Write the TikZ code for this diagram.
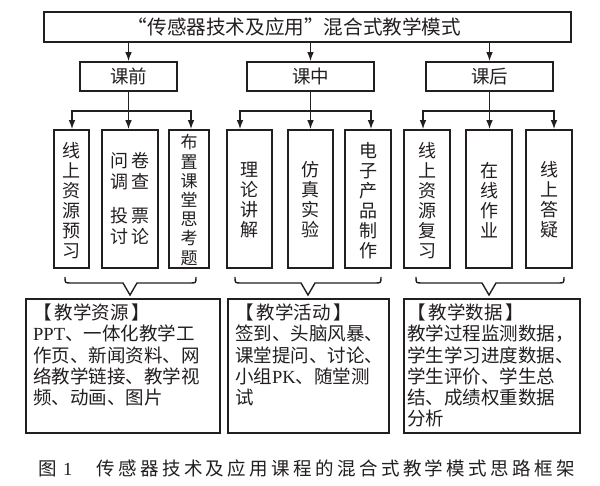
\documentclass[tikz,border=0pt]{standalone}
\usepackage{fontspec}
\setmainfont{Noto Sans CJK SC}
\newfontfamily\lat{Liberation Serif}
\usetikzlibrary{arrows.meta}
\definecolor{ink}{RGB}{35,31,32}
\def\spc#1{\ifx\relax#1\else#1\hspace{3.4pt}\expandafter\spc\fi}
\begin{document}
\begin{tikzpicture}[x=1pt,y=-1pt,
  box/.style={draw=ink, line width=1.5pt, inner sep=0pt, text=ink},
  txt/.style={inner sep=0pt, text=ink},
  tall/.style={box, minimum height=138pt},
  vtext/.style={txt, align=center, font=\fontsize{18}{20}\selectfont},
  body/.style={txt, align=left, anchor=north west, font=\fontsize{18.5}{21.3}\selectfont},
  arr/.style={-{Latex[length=9pt,width=6.5pt]}, draw=ink, line width=1.4pt},
  brace/.style={draw=ink, line width=1.4pt, line join=miter}]
\fill[white] (0,0) rectangle (600,486);
\useasboundingbox (0,0) rectangle (600,486);

% top
\node[box, minimum width=527pt, minimum height=30pt] (top) at (307.5,27) {};
\node[txt, font=\fontsize{19.6}{22}\selectfont] (title) at (294.5,27) {“传感器技术及应用”混合式教学模式};

% second row
\node[box, minimum width=97pt, minimum height=29pt, font=\fontsize{18.5}{20}\selectfont] (k1) at (128.5,76.5) {课前};
\node[box, minimum width=127pt, minimum height=29pt, font=\fontsize{18.5}{20}\selectfont] (k2) at (310.5,76.5) {课中};
\node[box, minimum width=127pt, minimum height=29pt, font=\fontsize{18.5}{20}\selectfont] (k3) at (489.5,76.5) {课后};

\draw[arr] (top.south -| k1.north) -- (k1.north);
\draw[arr] (top.south -| k2.north) -- (k2.north);
\draw[arr] (top.south -| k3.north) -- (k3.north);

% tall boxes
\node[tall, minimum width=35pt] (b1) at (71.5,199) {};
\node[tall, minimum width=56pt] (b2) at (130,199) {};
\node[tall, minimum width=40pt] (b3) at (189,199) {};
\node[tall, minimum width=45pt] (b4) at (249.5,199) {};
\node[tall, minimum width=45pt] (b5) at (310.5,199) {};
\node[tall, minimum width=46pt] (b6) at (368,199) {};
\node[tall, minimum width=46pt] (b7) at (427,199) {};
\node[tall, minimum width=46pt] (b8) at (489,199) {};
\node[tall, minimum width=46pt] (b9) at (549,199) {};

\node[vtext] (t1) at (71.5,201) {线\\上\\资\\源\\预\\习};
\node[vtext, font=\fontsize{18}{21}\selectfont] (t2) at (130,198) {问\hspace{3pt}卷\\调\hspace{3pt}查\\[13pt]投\hspace{3pt}票\\讨\hspace{3pt}论};
\node[vtext, font=\fontsize{17}{19.2}\selectfont] (t3) at (189,200) {布\\置\\课\\堂\\思\\考\\题};
\node[vtext] (t4) at (249.5,200) {理\\论\\讲\\解};
\node[vtext] (t5) at (310.5,200) {仿\\真\\实\\验};
\node[vtext] (t6) at (368,201) {电\\子\\产\\品\\制\\作};
\node[vtext] (t7) at (427,201) {线\\上\\资\\源\\复\\习};
\node[vtext] (t8) at (489,200) {在\\线\\作\\业};
\node[vtext] (t9) at (549,200) {线\\上\\答\\疑};

% branch points
\coordinate (a11) at (72,111);  \coordinate (a12) at (128.5,111); \coordinate (a13) at (191,111);
\coordinate (a21) at (240,111); \coordinate (a22) at (310.5,111); \coordinate (a23) at (371,111);
\coordinate (a31) at (423,111); \coordinate (a32) at (489.5,111); \coordinate (a33) at (554,111);

\draw[arr] (k1.south) -- (a12 |- b2.north);
\draw[arr] (a12) -- (a11) -- (a11 |- b1.north);
\draw[arr] (a12) -- (a13) -- (a13 |- b3.north);
\draw[arr] (k2.south) -- (a22 |- b5.north);
\draw[arr] (a22) -- (a21) -- (a21 |- b4.north);
\draw[arr] (a22) -- (a23) -- (a23 |- b6.north);
\draw[arr] (k3.south) -- (a32 |- b8.north);
\draw[arr] (a32) -- (a31) -- (a31 |- b7.north);
\draw[arr] (a32) -- (a33) -- (a33 |- b9.north);

% bottom boxes
\node[box, minimum width=194pt, minimum height=134pt] (A) at (123,366) {};
\node[box, minimum width=161pt, minimum height=134pt] (B) at (308.5,366) {};
\node[box, minimum width=176pt, minimum height=134pt] (C) at (492,366) {};

% braces
\draw[brace] (65,277) .. controls (65,283) .. (71,283) -- (123,283) -- (130,295) -- (137,283) -- (190,283) .. controls (196,283) .. (196,277);
\draw[brace] (235,277) .. controls (235,283) .. (241,283) -- (301,283) -- (308,295) -- (315,283) -- (375,283) .. controls (381,283) .. (381,277);
\draw[brace] (416,277) .. controls (416,283) .. (422,283) -- (482,283) -- (489,295) -- (496,283) -- (558,283) .. controls (564,283) .. (564,277);

\node[body] (tA) at (33,303.5) {【\,教学资源\,】\\{\lat PPT}、一体化教学工\\作页、新闻资料、网\\络教学链接、教学视\\频、动画、图片};
\node[body] (tB) at (235,303.5) {【\,教学活动\,】\\签到、头脑风暴、\\课堂提问、讨论、\\小组{\lat PK}、随堂测\\试};
\node[body] (tC) at (407,303.5) {【\,教学数据\,】\\教学过程监测数据，\\学生学习进度数据、\\学生评价、学生总\\结、成绩权重数据\\分析};

% caption
\node[txt, anchor=west, font=\fontsize{18.5}{21}\selectfont] (cap) at (38,468) {图\hspace{6.5pt}{\lat 1}\hspace{24pt}\spc 传感器技术及应用课程的混合式教学模式思路框架\relax};
\end{tikzpicture}
\end{document}
